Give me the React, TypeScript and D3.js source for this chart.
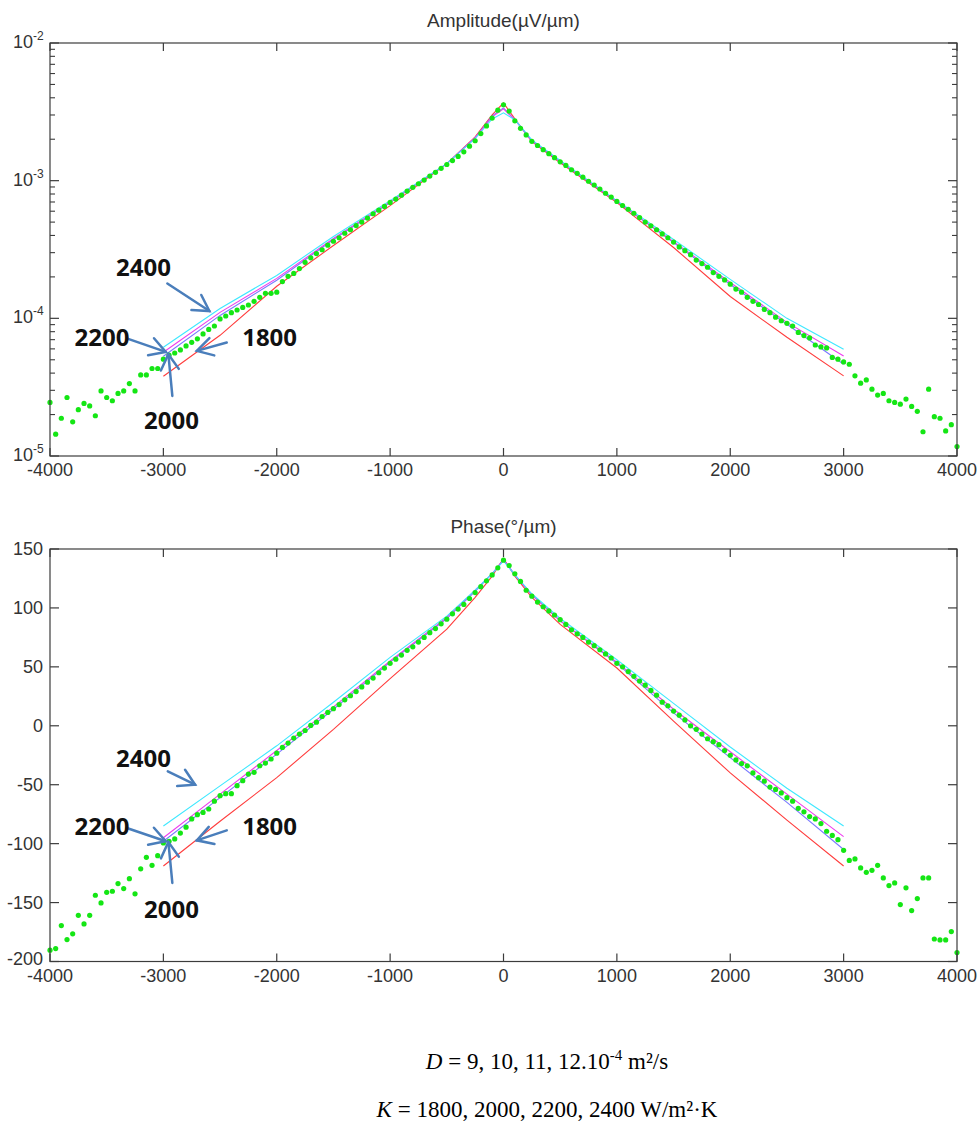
import React from "react";
import * as d3 from "d3";

// ---------- DATA ----------
// scan positions of the measured points (µm), one every 50 µm
const DOT_X: number[] = d3.range(-4000, 4001, 50);

// measured amplitude (µV/µm), -4000 … 4000 µm
const AMP_MEASURED: number[] = [
  2.45e-5, 1.44e-5, 1.88e-5, 2.66e-5, 1.77e-5, 2.17e-5, 2.41e-5, 2.31e-5, 1.96e-5, 2.97e-5,
  2.66e-5, 2.52e-5, 2.85e-5, 2.97e-5, 3.36e-5, 2.97e-5, 3.88e-5, 3.88e-5, 4.32e-5, 4.32e-5,
  5.05e-5,
  5.4e-5, 5.6e-5, 5.9e-5, 6.3e-5, 6.7e-5, 7.1e-5, 7.7e-5, 8.3e-5, 8.8e-5, 9.9e-5,
  1.04e-4, 1.10e-4, 1.15e-4, 1.20e-4, 1.25e-4, 1.33e-4, 1.42e-4, 1.52e-4, 1.52e-4, 1.55e-4,
  1.85e-4, 2.02e-4, 2.12e-4, 2.30e-4, 2.55e-4, 2.75e-4, 2.95e-4, 3.15e-4, 3.40e-4, 3.63e-4,
  3.85e-4, 4.15e-4, 4.40e-4, 4.72e-4, 5.00e-4, 5.35e-4, 5.75e-4, 6.10e-4, 6.50e-4, 6.95e-4,
  7.35e-4, 7.85e-4, 8.40e-4, 8.95e-4, 9.50e-4, 1.01e-3, 1.08e-3, 1.15e-3, 1.23e-3, 1.31e-3,
  1.40e-3, 1.50e-3, 1.62e-3, 1.78e-3, 1.95e-3, 2.20e-3, 2.50e-3, 2.85e-3, 3.25e-3,
  3.56e-3,
  3.20e-3, 2.72e-3, 2.40e-3, 2.15e-3, 1.93e-3, 1.80e-3, 1.68e-3, 1.57e-3, 1.47e-3, 1.37e-3,
  1.29e-3, 1.20e-3, 1.13e-3, 1.06e-3, 9.9e-4, 9.3e-4, 8.7e-4, 8.1e-4, 7.6e-4, 7.07e-4,
  6.6e-4, 6.2e-4, 5.8e-4, 5.4e-4, 5.0e-4, 4.7e-4, 4.4e-4, 4.1e-4, 3.85e-4, 3.58e-4,
  3.30e-4, 3.10e-4, 2.90e-4, 2.65e-4, 2.50e-4, 2.35e-4, 2.15e-4, 2.02e-4, 1.90e-4, 1.77e-4,
  1.63e-4, 1.55e-4, 1.42e-4, 1.33e-4, 1.26e-4, 1.16e-4, 1.10e-4, 1.02e-4, 9.6e-5, 9.2e-5,
  8.8e-5, 7.9e-5, 7.5e-5, 7.2e-5, 6.4e-5, 6.2e-5, 6.1e-5, 5.2e-5, 5.05e-5,
  4.82e-5, 4.64e-5, 3.82e-5, 3.38e-5, 3.57e-5, 3.06e-5, 2.77e-5, 2.85e-5, 2.52e-5, 2.45e-5,
  2.38e-5, 2.59e-5, 2.29e-5, 2.11e-5, 1.50e-5, 3.06e-5, 1.93e-5, 1.88e-5, 1.52e-5, 1.69e-5,
  1.17e-5,
];

// measured phase (°/µm), -4000 … 4000 µm
const PHASE_MEASURED: number[] = [
  -190.4, -189.0, -169.5, -181.4, -176.5, -160.8, -168.1, -160.8, -143.8, -150.3,
  -141.3, -140.4, -133.9, -138.1, -129.7, -142.6, -121.4, -111.6, -118.4, -110.2,
  -99.4,
  -98, -96, -91, -86, -79, -75.4, -73.5, -70.6, -64, -59.3,
  -57.6, -57.6, -50.8, -46.6, -41, -39.5, -33.9, -31.6, -28.2, -23.2,
  -18.4, -14.7, -10.4, -7, -4, 0.3, 3.1, 7.9, 11.3, 14.5,
  18, 22, 25.5, 29, 33, 37, 40.5, 45, 49, 53,
  56.5, 60, 64, 67, 71, 75, 79, 82.5, 86.5, 90.5,
  95, 99, 103, 108, 113, 118, 123, 128, 134,
  140.5,
  136, 129, 122.5, 115, 110, 105, 101, 97.5, 94, 90,
  86, 81.5, 78, 75, 71, 68, 64.5, 61, 57.5, 53,
  50, 46, 42, 38, 34.5, 30, 26, 20, 17, 12.5,
  9, 5, 0, -3, -7, -11, -13.5, -16, -21, -25,
  -29, -32, -34, -40, -44, -47, -52, -54, -57, -61,
  -64, -70, -73, -77, -79, -83, -89.5, -93, -96.6,
  -105.7, -114.2, -113.0, -120.6, -124.3, -122.6, -118.4, -129.1, -135.6, -133.3,
  -151.7, -137.5, -156.8, -146.6, -129.1, -129.1, -180.9, -181.7, -181.7, -174.6,
  -192.4,
];

// simulated curves (K = 1800, 2000, 2200, 2400 W/m²·K)
const MODEL_X = [-3000, -2500, -2000, -1500, -1000, -500, -250, -100, 0, 100, 250, 500, 1000, 1500, 2000, 2500, 3000];

const AMP_K1800 = [3.80e-5, 7.53e-5, 1.71e-4, 3.38e-4, 6.59e-4, 1.33e-3, 2.08e-3, 3.01e-3, 3.67e-3, 2.81e-3, 1.92e-3, 1.35e-3, 6.93e-4, 3.27e-4, 1.44e-4, 7.28e-5, 3.82e-5];
const AMP_K2000 = [5.30e-5, 1.05e-4, 1.89e-4, 3.74e-4, 6.93e-4, 1.33e-3, 2.05e-3, 2.96e-3, 3.38e-3, 2.77e-3, 1.95e-3, 1.37e-3, 7.04e-4, 3.55e-4, 1.76e-4, 9.05e-5, 4.64e-5];
const AMP_K2200 = [5.67e-5, 1.105e-4, 1.95e-4, 3.80e-4, 7.04e-4, 1.33e-3, 2.05e-3, 2.91e-3, 3.32e-3, 2.77e-3, 1.95e-3, 1.37e-3, 7.04e-4, 3.61e-4, 1.82e-4, 9.35e-5, 5.33e-5];
const AMP_K2400 = [6.17e-5, 1.18e-4, 2.05e-4, 3.93e-4, 7.16e-4, 1.33e-3, 2.02e-3, 2.81e-3, 3.11e-3, 2.77e-3, 1.98e-3, 1.40e-3, 7.16e-4, 3.74e-4, 1.92e-4, 1.0e-4, 5.96e-5];

const PHASE_K1800 = [-119, -81, -44, -3, 40, 82, 109, 127, 142, 127, 109, 86, 49, 4, -40, -80, -119];
const PHASE_K2000 = [-98, -61, -24, 14, 54, 91, 114, 129, 141, 128, 111, 89, 53, 11, -27, -65, -105];
const PHASE_K2200 = [-95, -58, -21, 16, 55, 92, 115, 129, 141, 128, 111, 89, 54, 14, -22, -58, -94];
const PHASE_K2400 = [-85, -51, -17, 20, 58, 93, 115, 129, 140, 128, 112, 91, 56, 19, -18, -53, -85];

const X_TICKS = [-4000, -3000, -2000, -1000, 0, 1000, 2000, 3000, 4000];
const PHASE_TICKS = [-200, -150, -100, -50, 0, 50, 100, 150];
const AMP_DECADES = [1e-5, 1e-4, 1e-3, 1e-2];
const AMP_DECADE_EXP = ["-5", "-4", "-3", "-2"];

// hand annotations (data coordinates)
const AMP_NOTES = [
  { label: "2400", at: [-3175, 2.015e-4], from: [-2965, 1.79e-4], to: [-2594, 1.13e-4] },
  { label: "2200", at: [-3541, 6.27e-5], from: [-3317, 7.13e-5], to: [-2979, 5.7e-5] },
  { label: "1800", at: [-2063, 6.27e-5], from: [-2441, 6.67e-5], to: [-2705, 5.8e-5] },
  { label: "2000", at: [-2928, 1.57e-5], from: [-2921, 2.73e-5], to: [-2956, 5.49e-5] },
];
const PHASE_NOTES = [
  { label: "2400", at: [-3175, -34.7], from: [-2961, -38.7], to: [-2720, -50] },
  { label: "2200", at: [-3541, -92.4], from: [-3323, -86.7], to: [-2979, -98] },
  { label: "1800", at: [-2063, -92.4], from: [-2441, -88.7], to: [-2705, -97.2] },
  { label: "2000", at: [-2928, -162.7], from: [-2921, -133.3], to: [-2956, -98.6] },
];

// ---------- STYLE ----------
const W = 980;
const H = 1122;
const LEFT = 50;
const RIGHT = 957;
const AXIS = "#3c3c3c";
const TEXT = "#333333";
const SANS = "'Liberation Sans', Arial, sans-serif";
const SERIF = "'Liberation Serif', 'Times New Roman', serif";
const COLORS = { k1800: "#ff3c3c", k2000: "#7a7aff", k2200: "#ee3cee", k2400: "#3ee8ff", dots: "#14e614", arrow: "#4a7ebb" };

const x = d3.scaleLinear().domain([-4000, 4000]).range([LEFT, RIGHT]);

type Scale = (v: number) => number;

function Arrow({ from, to, y }: { from: number[]; to: number[]; y: Scale }) {
  const sx = x(from[0]), sy = y(from[1]);
  const tx = x(to[0]), ty = y(to[1]);
  const a = Math.atan2(ty - sy, tx - sx);
  const L = 18;
  const h1 = [tx - L * Math.cos(a - Math.PI / 6), ty - L * Math.sin(a - Math.PI / 6)];
  const h2 = [tx - L * Math.cos(a + Math.PI / 6), ty - L * Math.sin(a + Math.PI / 6)];
  return (
    <g stroke={COLORS.arrow} strokeWidth={2.5} fill="none" strokeLinecap="round">
      <line x1={sx} y1={sy} x2={tx} y2={ty} />
      <polyline points={`${h1[0]},${h1[1]} ${tx},${ty} ${h2[0]},${h2[1]}`} />
    </g>
  );
}

function Panel(props: {
  y: Scale;
  top: number;
  bottom: number;
  title: string;
  titleY: number;
  measured: number[];
  models: { values: number[]; color: string }[];
  notes: { label: string; at: number[]; from: number[]; to: number[] }[];
  yAxis: React.ReactNode;
}) {
  const { y, top, bottom, title, titleY, measured, models, notes, yAxis } = props;
  const line = d3
    .line<number>()
    .x((_, i) => x(MODEL_X[i]))
    .y((d) => y(d));
  return (
    <g>
      <text x={(LEFT + RIGHT) / 2} y={titleY} textAnchor="middle" fontFamily={SANS} fontSize={19} fill={TEXT}>
        {title}
      </text>
      {models.map((m, i) => (
        <path key={i} d={line(m.values) || ""} fill="none" stroke={m.color} strokeWidth={1.1} />
      ))}
      {measured.map((v, i) => (
        <circle key={i} cx={x(DOT_X[i])} cy={y(v)} r={2.6} fill={COLORS.dots} />
      ))}
      {notes.map((n, i) => (
        <g key={i}>
          <Arrow from={n.from} to={n.to} y={y} />
          <text x={x(n.at[0])} y={y(n.at[1])} textAnchor="middle" fontFamily="'Open Sans', sans-serif" fontWeight="bold" fontSize={24} fill="#111">
            {n.label}
          </text>
        </g>
      ))}
      <rect x={LEFT} y={top} width={RIGHT - LEFT} height={bottom - top} fill="none" stroke={AXIS} strokeWidth={1.2} />
      {X_TICKS.map((t) => (
        <g key={t}>
          <line x1={x(t)} x2={x(t)} y1={top} y2={top + 8} stroke={AXIS} strokeWidth={1.2} />
          <line x1={x(t)} x2={x(t)} y1={bottom} y2={bottom - 8} stroke={AXIS} strokeWidth={1.2} />
          <text x={x(t)} y={bottom + 20} textAnchor="middle" fontFamily={SANS} fontSize={18} fill={TEXT}>
            {t}
          </text>
        </g>
      ))}
      {yAxis}
    </g>
  );
}

export default function App() {
  const AMP_TOP = 43;
  const AMP_BOTTOM = 456;
  const PH_TOP = 549;
  const PH_BOTTOM = 961.5;

  const yAmp = d3.scaleLog().domain([1e-5, 1e-2]).range([AMP_BOTTOM, AMP_TOP]);
  const yPh = d3.scaleLinear().domain([-200, 150]).range([PH_BOTTOM, PH_TOP]);

  const minor = yAmp.ticks().filter((t) => !AMP_DECADES.some((d) => Math.abs(d - t) / d < 1e-6));

  const ampAxis = (
    <g>
      {minor.map((t, i) => (
        <g key={i}>
          <line x1={LEFT} x2={LEFT + 5} y1={yAmp(t)} y2={yAmp(t)} stroke={AXIS} strokeWidth={1.1} />
          <line x1={RIGHT} x2={RIGHT - 5} y1={yAmp(t)} y2={yAmp(t)} stroke={AXIS} strokeWidth={1.1} />
        </g>
      ))}
      {AMP_DECADES.map((t, i) => (
        <g key={t}>
          <line x1={LEFT} x2={LEFT + 9} y1={yAmp(t)} y2={yAmp(t)} stroke={AXIS} strokeWidth={1.2} />
          <line x1={RIGHT} x2={RIGHT - 9} y1={yAmp(t)} y2={yAmp(t)} stroke={AXIS} strokeWidth={1.2} />
          <text x={13} y={yAmp(t) + 5} fontFamily={SANS} fontSize={18} fill={TEXT}>
            10
            <tspan dy={-8} fontSize={12}>
              {AMP_DECADE_EXP[i]}
            </tspan>
          </text>
        </g>
      ))}
    </g>
  );

  const phAxis = (
    <g>
      {PHASE_TICKS.map((t) => (
        <g key={t}>
          <line x1={LEFT} x2={LEFT + 9} y1={yPh(t)} y2={yPh(t)} stroke={AXIS} strokeWidth={1.2} />
          <line x1={RIGHT} x2={RIGHT - 9} y1={yPh(t)} y2={yPh(t)} stroke={AXIS} strokeWidth={1.2} />
          <text x={43} y={yPh(t) + (t === -200 ? 3.5 : 6)} textAnchor="end" fontFamily={SANS} fontSize={18} fill={TEXT}>
            {t}
          </text>
        </g>
      ))}
    </g>
  );

  const ampModels = [
    { values: AMP_K1800, color: COLORS.k1800 },
    { values: AMP_K2000, color: COLORS.k2000 },
    { values: AMP_K2200, color: COLORS.k2200 },
    { values: AMP_K2400, color: COLORS.k2400 },
  ];
  const phModels = [
    { values: PHASE_K1800, color: COLORS.k1800 },
    { values: PHASE_K2000, color: COLORS.k2000 },
    { values: PHASE_K2200, color: COLORS.k2200 },
    { values: PHASE_K2400, color: COLORS.k2400 },
  ];

  return (
    <div style={{ position: "absolute", left: 0, top: 0 }}>
      <svg width={W} height={H} viewBox={`0 0 ${W} ${H}`} style={{ display: "block", background: "#fff" }}>
        <rect width={W} height={H} fill="#fff" />
        <Panel
          y={yAmp as unknown as Scale}
          top={AMP_TOP}
          bottom={AMP_BOTTOM}
          title="Amplitude(µV/µm)"
          titleY={27}
          measured={AMP_MEASURED}
          models={ampModels}
          notes={AMP_NOTES}
          yAxis={ampAxis}
        />
        <Panel
          y={yPh as unknown as Scale}
          top={PH_TOP}
          bottom={PH_BOTTOM}
          title="Phase(°/µm)"
          titleY={533}
          measured={PHASE_MEASURED}
          models={phModels}
          notes={PHASE_NOTES}
          yAxis={phAxis}
        />
        <text x={547} y={1069} textAnchor="middle" fontFamily={SERIF} fontSize={23} fill="#000">
          <tspan fontStyle="italic">D</tspan> = 9, 10, 11, 12.10
          <tspan dy={-9} fontSize={15}>-4</tspan>
          <tspan dy={9}> m²/s</tspan>
        </text>
        <text x={547} y={1117} textAnchor="middle" fontFamily={SERIF} fontSize={23} fill="#000">
          <tspan fontStyle="italic">K</tspan> = 1800, 2000, 2200, 2400 W/m²·K
        </text>
      </svg>
    </div>
  );
}
